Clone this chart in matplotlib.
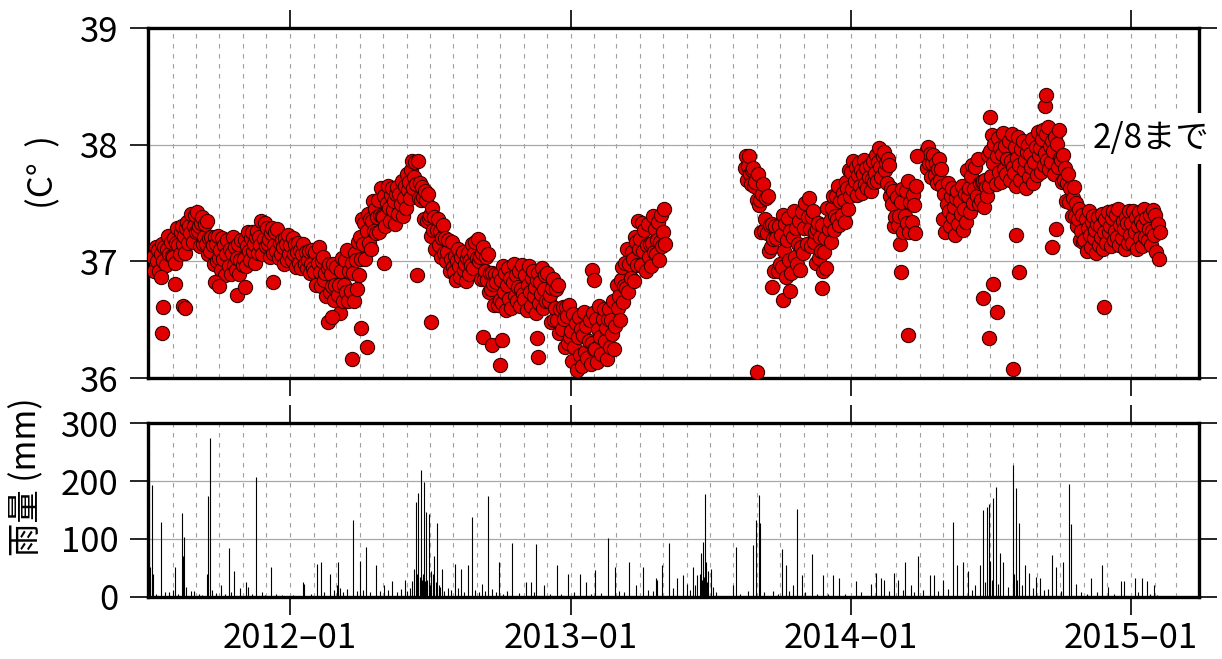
import matplotlib
matplotlib.use("Agg")
import matplotlib.pyplot as plt
import matplotlib.dates as mdates
import matplotlib.ticker as mticker
import pandas as pd

plt.rcParams['font.family'] = ['Noto Sans CJK JP', 'DejaVu Sans']

# ---------------- data ----------------
# temperature readings grouped in chunks (mostly calendar months);
# values of chunk k lie between temp_bounds[k] and temp_bounds[k+1]
temp_bounds = [
    "2011-07-06", "2011-08-01", "2011-09-01", "2011-10-01", "2011-11-01", "2011-12-01",
    "2012-01-01", "2012-02-01", "2012-03-01", "2012-04-01", "2012-05-01", "2012-06-01",
    "2012-07-01", "2012-08-01", "2012-09-01", "2012-10-01", "2012-11-01", "2012-12-01",
    "2013-01-01", "2013-02-01", "2013-03-01", "2013-04-01", "2013-05-01", "2013-05-05",
    "2013-08-15", "2013-09-01", "2013-10-01", "2013-11-01", "2013-12-01",
    "2014-01-01", "2014-02-01", "2014-03-01", "2014-03-28", "2014-04-08", "2014-05-01",
    "2014-06-01", "2014-07-01", "2014-08-01", "2014-09-01", "2014-10-01", "2014-11-01",
    "2014-12-01", "2015-01-01", "2015-02-01", "2015-02-09",
]
temp_values = [
    # 2011-07
    [37.04, 36.92, 37.12, 37.00, 37.10, 36.92, 37.06, 37.15, 37.00, 37.12, 36.97, 37.11, 37.22, 37.06, 37.17, 37.05],
    # 2011-08
    [37.04, 37.20, 36.99, 37.16, 37.29, 37.14, 37.06, 37.25, 37.30, 37.15, 37.22, 37.07, 37.29, 37.34, 37.16, 37.30,
     37.24, 37.41, 37.17, 37.30, 37.40, 37.25],
    # 2011-09
    [37.42, 37.26, 37.30, 37.13, 37.33, 37.38, 37.15, 37.21, 37.32, 37.15, 37.35, 37.06, 37.20, 37.09, 37.21, 37.14,
     36.98, 37.21, 37.15, 37.00, 37.22, 37.03],
    # 2011-10
    [37.10, 36.93, 37.20, 37.02, 37.14, 36.88, 37.06, 37.18, 36.96, 37.11, 36.89, 37.07, 37.21, 36.97, 37.12, 36.93,
     37.03, 37.15, 36.89, 37.01, 37.18, 36.97],
    # 2011-11
    [37.02, 37.18, 36.96, 37.13, 37.25, 37.09, 37.01, 37.20, 37.25, 37.09, 37.15, 36.99, 37.21, 37.26, 37.07, 37.21,
     37.14, 37.35, 37.06, 37.19, 37.33, 37.13],
    # 2011-12
    [37.29, 37.15, 37.19, 37.04, 37.24, 37.29, 37.07, 37.14, 37.25, 37.09, 37.28, 37.03, 37.16, 37.06, 37.18, 37.12,
     36.98, 37.20, 37.15, 37.01, 37.23, 37.06],
    # 2012-01
    [37.14, 37.01, 37.20, 37.06, 37.15, 36.95, 37.08, 37.16, 36.99, 37.10, 36.94, 37.06, 37.15, 36.98, 37.08, 36.94,
     37.01, 37.09, 36.90, 36.98, 37.10, 36.94],
    # 2012-02
    [36.91, 37.08, 36.80, 36.99, 37.12, 36.91, 36.79, 37.00, 37.04, 36.84, 36.90, 36.70, 36.94, 36.98, 36.74, 36.89,
     36.79, 36.98, 36.67, 36.80],
    # 2012-03
    [36.95, 36.71, 36.80, 36.56, 36.92, 37.03, 36.66, 36.80, 37.01, 36.74, 37.10, 36.66, 36.92, 36.75, 36.99, 36.90,
     36.66, 37.07, 37.01, 36.76, 37.17, 36.88],
    # 2012-04
    [37.21, 37.02, 37.36, 37.15, 37.33, 37.02, 37.26, 37.41, 37.16, 37.36, 37.11, 37.35, 37.52, 37.26, 37.45, 37.24,
     37.38, 37.53, 37.25, 37.40, 37.63, 37.39],
    # 2012-05
    [37.38, 37.56, 37.30, 37.50, 37.65, 37.46, 37.35, 37.57, 37.63, 37.44, 37.52, 37.32, 37.58, 37.64, 37.41, 37.58,
     37.49, 37.69, 37.39, 37.54, 37.65, 37.46],
    # 2012-06
    [37.75, 37.61, 37.68, 37.54, 37.78, 37.86, 37.63, 37.72, 37.85, 37.66, 37.86, 37.54, 37.67, 37.53, 37.64, 37.55,
     37.36, 37.60, 37.53, 37.35, 37.58, 37.37],
    # 2012-07
    [37.40, 37.22, 37.46, 37.27, 37.38, 37.11, 37.27, 37.36, 37.14, 37.26, 37.04, 37.20, 37.31, 37.07, 37.20, 37.00,
     37.08, 37.18, 36.92, 37.02, 37.17, 36.95],
    # 2012-08
    [36.91, 37.05, 36.84, 37.00, 37.11, 36.96, 36.87, 37.04, 37.08, 36.93, 36.98, 36.83, 37.03, 37.07, 36.89, 37.01,
     36.97, 37.15, 36.94, 37.07, 37.17, 37.03],
    # 2012-09
    [37.19, 37.00, 37.04, 36.85, 37.07, 37.12, 36.85, 36.92, 37.04, 36.84, 37.06, 36.74, 36.90, 36.76, 36.90, 36.81,
     36.63, 36.89, 36.82, 36.63, 36.89, 36.67],
    # 2012-10
    [36.84, 36.64, 36.96, 36.74, 36.90, 36.58, 36.80, 36.94, 36.68, 36.86, 36.60, 36.82, 36.98, 36.70, 36.88, 36.66,
     36.78, 36.92, 36.62, 36.76, 36.97, 36.72],
    # 2012-11
    [36.68, 36.88, 36.58, 36.80, 36.96, 36.74, 36.62, 36.86, 36.92, 36.70, 36.78, 36.56, 36.84, 36.90, 36.64, 36.82,
     36.72, 36.94, 36.60, 36.76, 36.88, 36.66],
    # 2012-12
    [36.90, 36.66, 36.71, 36.48, 36.77, 36.85, 36.50, 36.60, 36.76, 36.50, 36.80, 36.39, 36.59, 36.42, 36.61, 36.51,
     36.27, 36.61, 36.53, 36.30, 36.63, 36.35],
    # 2013-01
    [36.40, 36.15, 36.55, 36.27, 36.47, 36.07, 36.35, 36.52, 36.20, 36.42, 36.10, 36.37, 36.57, 36.22, 36.45, 36.17,
     36.32, 36.50, 36.12, 36.30, 36.56, 36.25],
    # 2013-02
    [36.25, 36.51, 36.14, 36.42, 36.62, 36.35, 36.21, 36.51, 36.59, 36.32, 36.43, 36.16, 36.51, 36.59, 36.27, 36.50,
     36.38, 36.66, 36.25, 36.45],
    # 2013-03
    [36.80, 36.60, 36.70, 36.50, 36.84, 36.95, 36.65, 36.79, 36.99, 36.77, 37.11, 36.74, 36.98, 36.86, 37.08, 37.02,
     36.83, 37.21, 37.17, 36.97, 37.35, 37.11],
    # 2013-04
    [37.19, 36.97, 37.33, 37.09, 37.27, 36.92, 37.14, 37.32, 37.04, 37.15, 36.96, 37.16, 37.39, 37.08, 37.28, 37.06,
     37.18, 37.34, 37.01, 37.17, 37.40, 37.13],
    # 2013-05 (1-4)
    [37.25, 37.45, 37.15],
    # no readings
    [],
    # 2013-08 (15-31)
    [37.80, 37.90, 37.70, 37.82, 37.90, 37.75, 37.66, 37.78, 37.80, 37.65, 37.68, 37.53],
    # 2013-09
    [37.75, 37.48, 37.53, 37.25, 37.58, 37.66, 37.26, 37.36, 37.54, 37.24, 37.56, 37.09, 37.31, 37.12, 37.32, 37.19,
     36.92, 37.30, 37.20, 36.92, 37.30, 36.98],
    # 2013-10
    [37.23, 36.95, 37.40, 37.09, 37.32, 36.87, 37.18, 37.37, 37.01, 37.26, 36.90, 37.21, 37.43, 37.04, 37.29, 36.98,
     37.15, 37.35, 36.93, 37.12, 37.42, 37.07],
    # 2013-11
    [37.29, 37.50, 37.15, 37.38, 37.54, 37.28, 37.13, 37.38, 37.43, 37.17, 37.25, 36.99, 37.28, 37.33, 37.03, 37.21,
     37.09, 37.31, 36.92, 37.08, 37.20, 36.94],
    # 2013-12
    [37.46, 37.28, 37.35, 37.17, 37.46, 37.56, 37.27, 37.39, 37.56, 37.36, 37.65, 37.31, 37.52, 37.40, 37.59, 37.53,
     37.34, 37.68, 37.63, 37.45, 37.78, 37.56],
    # 2014-01
    [37.77, 37.62, 37.86, 37.69, 37.81, 37.57, 37.74, 37.84, 37.65, 37.78, 37.59, 37.75, 37.87, 37.66, 37.80, 37.63,
     37.72, 37.83, 37.60, 37.71, 37.86, 37.68],
    # 2014-02
    [37.76, 37.91, 37.69, 37.85, 37.97, 37.81, 37.72, 37.90, 37.94, 37.78, 37.84, 37.67, 37.88, 37.83, 37.56, 37.63,
     37.49, 37.60, 37.30, 37.38],
    # 2014-03 (1-27)
    [37.55, 37.31, 37.39, 37.15, 37.51, 37.62, 37.25, 37.39, 37.60, 37.33, 37.69, 37.25, 37.51, 37.34, 37.57, 37.48,
     37.24, 37.65],
    # no readings
    [],
    # 2014-04 (8-30)
    [37.94, 37.80, 37.98, 37.84, 37.92, 37.72, 37.84, 37.91, 37.74, 37.84, 37.67, 37.79, 37.88, 37.70, 37.79, 37.65],
    # 2014-05
    [37.36, 37.58, 37.25, 37.49, 37.67, 37.43, 37.30, 37.56, 37.63, 37.38, 37.47, 37.23, 37.54, 37.60, 37.32, 37.52,
     37.41, 37.65, 37.27, 37.45, 37.58, 37.34],
    # 2014-06
    [37.78, 37.56, 37.63, 37.42, 37.73, 37.83, 37.50, 37.62, 37.81, 37.56, 37.88, 37.49, 37.67, 37.53, 37.68, 37.69,
     37.47, 37.70, 37.64, 37.56, 37.91, 37.65],
    # 2014-07
    [37.95, 37.73, 38.08, 37.84, 38.01, 37.66, 37.90, 38.06, 37.77, 37.97, 37.68, 37.92, 38.10, 37.79, 37.99, 37.75,
     37.88, 38.03, 37.70, 37.86, 38.09, 37.81],
    # 2014-08
    [37.76, 37.98, 37.65, 37.89, 38.07, 37.83, 37.70, 37.96, 38.03, 37.78, 37.87, 37.63, 37.94, 38.00, 37.72, 37.92,
     37.81, 38.05, 37.67, 37.85, 37.98, 37.74],
    # 2014-09
    [38.11, 37.91, 37.97, 37.77, 38.05, 38.13, 37.83, 37.93, 38.09, 37.87, 38.15, 37.79, 37.99, 37.85, 38.03, 37.95,
     37.75, 38.07, 38.01, 37.81, 38.13, 37.89],
    # 2014-10
    [37.87, 37.68, 37.91, 37.70, 37.80, 37.52, 37.67, 37.75, 37.51, 37.63, 37.39, 37.54, 37.64, 37.39, 37.50, 37.30,
     37.36, 37.45, 37.18, 37.26, 37.40, 37.17],
    # 2014-11
    [37.18, 37.36, 37.09, 37.29, 37.43, 37.23, 37.12, 37.34, 37.39, 37.20, 37.27, 37.07, 37.32, 37.38, 37.14, 37.30,
     37.21, 37.41, 37.11, 37.25, 37.36, 37.16],
    # 2014-12
    [37.42, 37.25, 37.30, 37.13, 37.37, 37.43, 37.18, 37.26, 37.40, 37.21, 37.45, 37.14, 37.31, 37.20, 37.35, 37.28,
     37.11, 37.38, 37.33, 37.16, 37.43, 37.23],
    # 2015-01
    [37.33, 37.16, 37.43, 37.25, 37.38, 37.11, 37.30, 37.42, 37.20, 37.35, 37.13, 37.31, 37.45, 37.21, 37.37, 37.18,
     37.28, 37.40, 37.14, 37.26, 37.44, 37.23],
    # 2015-02 (1-8)
    [37.40, 37.08, 37.32, 37.02, 37.25],
]

# isolated low / high readings
out_dates = ["2011-07-17", "2011-07-18", "2011-07-19", "2011-08-04", "2011-08-15", "2011-08-17",
             "2011-09-25", "2011-09-30", "2011-10-24", "2011-11-03", "2011-12-10", "2012-03-22",
             "2012-04-03", "2012-04-11", "2012-05-02", "2012-06-15", "2012-07-03", "2012-09-09",
             "2012-09-20", "2012-10-01", "2012-10-04", "2012-11-18", "2012-11-20", "2013-01-29",
             "2013-01-31", "2013-09-01", "2014-03-07", "2014-03-17", "2014-03-29", "2014-06-22",
             "2014-06-30", "2014-07-02", "2014-07-05", "2014-07-11", "2014-08-01", "2014-08-04",
             "2014-08-08", "2014-09-11", "2014-09-13", "2014-09-21", "2014-09-25", "2014-11-27",
             "2012-02-20", "2012-02-25", "2013-09-20", "2013-10-05", "2013-10-14", "2013-11-25"]
out_values = [36.87, 36.39, 36.61, 36.81, 36.62, 36.60,
              36.82, 36.79, 36.71, 36.78, 36.82, 36.16,
              36.43, 36.27, 36.99, 36.88, 36.48, 36.35,
              36.28, 36.11, 36.33, 36.34, 36.18, 36.93,
              36.84, 36.05, 36.91, 36.37, 37.90, 36.69,
              36.34, 38.24, 36.81, 36.57, 36.08, 37.23,
              36.91, 38.33, 38.43, 37.12, 37.28, 36.61,
              36.48, 36.52, 36.78, 36.67, 36.75, 36.77]

# daily rainfall (mm)
rain_dates = [
    "2011-07-02", "2011-07-03", "2011-07-05", "2011-07-06", "2011-07-17", "2011-07-28", "2011-08-01",
    "2011-08-04", "2011-08-13", "2011-08-15", "2011-08-16", "2011-08-18", "2011-08-25", "2011-09-05",
    "2011-09-15", "2011-09-16", "2011-09-19", "2011-09-21", "2011-10-03", "2011-10-13", "2011-10-20",
    "2011-10-28", "2011-11-05", "2011-11-07", "2011-11-18", "2011-11-25", "2011-12-07", "2012-01-18",
    "2012-01-20", "2012-02-05", "2012-02-10", "2012-02-22", "2012-03-02", "2012-03-04", "2012-03-06",
    "2012-03-23", "2012-04-01", "2012-04-09", "2012-04-22", "2012-05-03", "2012-05-13", "2012-05-30",
    "2012-06-05", "2012-06-08", "2012-06-11", "2012-06-13", "2012-06-15", "2012-06-16", "2012-06-18",
    "2012-06-20", "2012-06-22", "2012-06-24", "2012-06-26", "2012-06-28", "2012-06-30", "2012-07-03",
    "2012-07-05", "2012-07-07", "2012-07-11", "2012-07-13", "2012-07-17", "2012-07-25", "2012-08-03",
    "2012-08-11", "2012-08-20", "2012-08-25", "2012-09-07", "2012-09-15", "2012-09-30", "2012-10-17",
    "2012-11-04", "2012-11-10", "2012-11-17", "2012-11-27", "2012-12-14", "2012-12-29", "2013-01-13",
    "2013-01-21", "2013-02-02", "2013-02-19", "2013-02-28", "2013-03-18", "2013-03-27", "2013-04-05",
    "2013-04-22", "2013-04-24", "2013-04-30", "2013-05-09", "2013-05-20", "2013-05-28", "2013-06-02",
    "2013-06-10", "2013-06-15", "2013-06-18", "2013-06-20", "2013-06-23", "2013-06-25", "2013-06-27",
    "2013-06-29", "2013-07-03", "2013-07-31", "2013-08-04", "2013-08-26", "2013-08-31", "2013-09-03",
    "2013-09-05", "2013-09-22", "2013-10-03", "2013-10-08", "2013-10-18", "2013-10-23", "2013-10-30",
    "2013-11-11", "2013-11-26", "2013-12-09", "2013-12-17", "2014-01-08", "2014-01-27", "2014-02-03",
    "2014-02-09", "2014-02-14", "2014-02-27", "2014-03-04", "2014-03-13", "2014-03-21", "2014-03-30",
    "2014-04-14", "2014-04-19", "2014-05-01", "2014-05-14", "2014-05-20", "2014-05-27", "2014-06-03",
    "2014-06-18", "2014-06-22", "2014-06-27", "2014-06-30", "2014-07-02", "2014-07-06", "2014-07-10",
    "2014-07-15", "2014-07-19", "2014-07-31", "2014-08-02", "2014-08-04", "2014-08-08", "2014-08-16",
    "2014-08-21", "2014-08-31", "2014-09-05", "2014-09-20", "2014-09-25", "2014-10-05", "2014-10-13",
    "2014-10-15", "2014-10-22", "2014-11-10", "2014-11-25", "2014-12-03", "2014-12-19", "2014-12-23",
    "2015-01-07", "2015-01-16", "2015-01-22", "2015-01-31",
    # light rain days
    "2011-07-10", "2011-07-22", "2011-08-08", "2011-08-29", "2011-09-09", "2011-09-27", "2011-10-08",
    "2011-10-16", "2011-11-12", "2011-11-29", "2011-12-14", "2011-12-22", "2012-01-05", "2012-01-28",
    "2012-02-15", "2012-02-27", "2012-03-10", "2012-03-15", "2012-03-28", "2012-04-05", "2012-04-15",
    "2012-04-28", "2012-05-08", "2012-05-20", "2012-05-25", "2012-06-02", "2012-06-19", "2012-06-21",
    "2012-06-23", "2012-06-25", "2012-07-01", "2012-07-09", "2012-07-15", "2012-07-20", "2012-07-29",
    "2012-08-07", "2012-08-15", "2012-08-29", "2012-09-04", "2012-09-11", "2012-09-20", "2012-09-25",
    "2012-10-05", "2012-10-10", "2012-10-25", "2012-11-14", "2012-12-05", "2012-12-20", "2013-01-05",
    "2013-01-28", "2013-02-10", "2013-03-05", "2013-03-12", "2013-04-12", "2013-04-18", "2013-05-14",
    "2013-06-05", "2013-06-12", "2013-06-21", "2013-06-24", "2013-06-28", "2013-07-06", "2013-07-10",
    "2013-08-10", "2013-08-20", "2013-09-10", "2013-09-28", "2013-10-12", "2013-11-03", "2013-11-18",
    "2013-12-02", "2013-12-25", "2014-01-15", "2014-02-20", "2014-03-10", "2014-03-25", "2014-04-05",
    "2014-04-25", "2014-05-08", "2014-06-08", "2014-06-12", "2014-06-25", "2014-07-04", "2014-07-12",
    "2014-07-25", "2014-08-01", "2014-08-06", "2014-08-12", "2014-08-26", "2014-09-10", "2014-09-15",
    "2014-10-02", "2014-10-28", "2014-11-05", "2014-11-18", "2014-12-10", "2015-01-10", "2015-01-26",
    "2015-02-04", "2015-02-15", "2015-03-01",
]
rain_values = [
    52, 30, 193, 40, 129, 8, 12,
    52, 145, 70, 103, 18, 10, 6,
    40, 174, 274, 12, 20, 84, 45,
    16, 25, 18, 207, 8, 52, 25,
    22, 57, 60, 40, 20, 60, 15,
    133, 62, 86, 55, 20, 28, 30,
    15, 28, 48, 164, 40, 180, 35,
    219, 40, 199, 147, 30, 143, 45,
    40, 70, 127, 20, 48, 15, 57,
    48, 55, 138, 22, 174, 60, 93,
    25, 25, 92, 20, 55, 40, 40,
    25, 46, 101, 52, 60, 20, 52,
    32, 30, 55, 93, 32, 38, 22,
    52, 38, 40, 75, 95, 178, 60,
    45, 48, 20, 86, 90, 133, 176,
    128, 10, 82, 55, 20, 152, 38,
    74, 38, 38, 32, 27, 22, 42,
    32, 30, 42, 30, 60, 20, 70,
    38, 38, 30, 130, 55, 60, 45,
    55, 150, 155, 160, 62, 171, 190,
    76, 60, 228, 40, 188, 128, 55,
    42, 35, 32, 72, 52, 60, 195,
    125, 22, 32, 55, 18, 27, 27,
    32, 32, 27, 20,
    5, 8, 6, 10, 4, 7, 5,
    9, 6, 4, 5, 3, 4, 6,
    8, 12, 9, 14, 10, 12, 8,
    10, 12, 9, 14, 10, 25, 30,
    35, 28, 20, 25, 18, 10, 12,
    15, 9, 12, 8, 10, 14, 8,
    6, 10, 7, 9, 6, 5, 8,
    6, 7, 10, 8, 12, 10, 15,
    12, 20, 30, 35, 25, 18, 8,
    6, 10, 8, 6, 10, 8, 6,
    5, 6, 8, 10, 12, 9, 12,
    10, 14, 12, 20, 25, 30, 22,
    18, 25, 30, 20, 15, 12, 14,
    10, 8, 6, 9, 6, 8, 6,
    4, 2, 2,
]

x_start, x_end = "2011-06-30", "2015-03-31"
temp_label = "(C°  )"
rain_label = "雨量 (mm)"
note_text = "2/8まで"

# ---------------- build point series ----------------
tx, ty = [], []
for k, vals in enumerate(temp_values):
    if not vals:
        continue
    s = pd.Timestamp(temp_bounds[k])
    e = pd.Timestamp(temp_bounds[k + 1])
    n = len(vals)
    for i, v in enumerate(vals):
        tx.append(s + (e - s) * (i + 0.5) / n)
        ty.append(v)
tx += [pd.Timestamp(d) for d in out_dates]
ty += out_values

rx = [pd.Timestamp(d) for d in rain_dates]

# ---------------- figure ----------------
fig = plt.figure(figsize=(12.22, 6.59), dpi=100)
ax1 = fig.add_axes([0.1211, 0.4264, 0.8601, 0.5311])
ax2 = fig.add_axes([0.1211, 0.0941, 0.8601, 0.2640])

xlim = (pd.Timestamp(x_start), pd.Timestamp(x_end))
for ax in (ax1, ax2):
    ax.set_xlim(*xlim)
    ax.xaxis.set_major_locator(mdates.YearLocator())
    ax.xaxis.set_minor_locator(mdates.MonthLocator())
    ax.xaxis.remove_overlapping_locs = False
    ax.grid(True, which='minor', axis='x', color='#a0a0a0', linestyle=(0, (4, 5)), linewidth=0.8)
    ax.grid(True, which='major', axis='y', color='#a8a8a8', linestyle='-', linewidth=0.9)
    ax.tick_params(axis='both', which='major', direction='out', length=13, width=1.2,
                   labelsize=25, top=True, right=True, pad=8, colors='black')
    ax.tick_params(axis='x', which='minor', length=0)
    for sp in ax.spines.values():
        sp.set_linewidth(2.4)
    ax.set_axisbelow(True)

ax1.scatter(tx, ty, s=105, facecolor='#e00000', edgecolor='#3a0000', linewidth=0.8, zorder=3)
ax1.set_ylim(36, 39)
ax1.yaxis.set_major_locator(mticker.MultipleLocator(1))
ax1.tick_params(axis='x', labelbottom=False)

ax2.vlines(rx, 0, rain_values, color='black', linewidth=0.8, zorder=3)
ax2.set_ylim(0, 300)
ax2.yaxis.set_major_locator(mticker.MultipleLocator(100))
ax2.xaxis.set_major_formatter(mdates.DateFormatter('%Y\u2013%m'))
ax2.tick_params(axis='x', pad=4)

fig.text(0.036, 0.739, temp_label, rotation=90, fontsize=25, ha='center', va='center')
fig.text(0.022, 0.276, rain_label, rotation=90, fontsize=24, ha='center', va='center')
fig.text(0.990, 0.79, note_text, fontsize=24, ha='right', va='center',
         bbox=dict(facecolor='white', edgecolor='none', pad=6))

fig.savefig("out.png", dpi=100)
